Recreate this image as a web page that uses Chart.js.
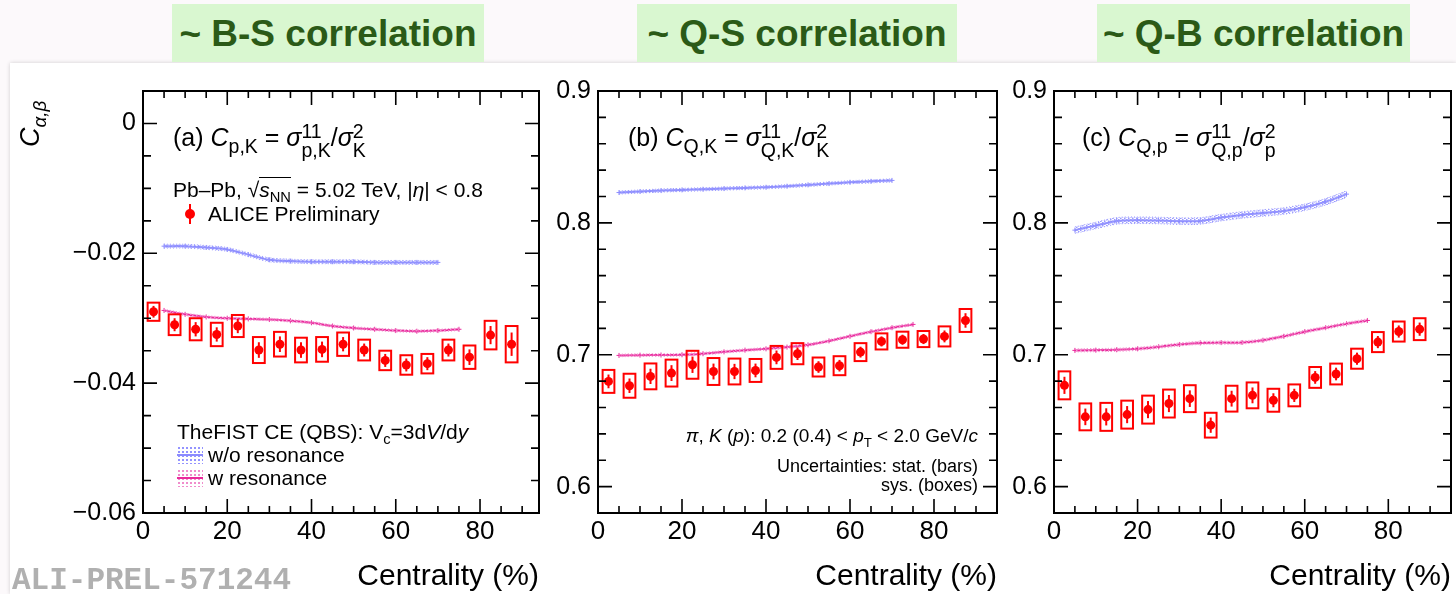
<!DOCTYPE html>
<html>
<head>
<meta charset="utf-8">
<script src="https://cdn.jsdelivr.net/npm/chart.js@4.4.1/dist/chart.umd.min.js"></script>
<style>
html, body { margin: 0; padding: 0; }
body { width: 1456px; height: 594px; position: relative; overflow: hidden; background: #fcf9fb; font-family: "Liberation Sans", Arial, sans-serif; }
.sheet { position: absolute; left: 10px; top: 63px; width: 1446px; height: 531px; background: #fff; box-shadow: 0 0 4px rgba(0,0,0,0.18); }
.head { position: absolute; top: 4px; height: 58px; background: #d9f7d0; color: #2b5a17; font-weight: bold; font-size: 37px; line-height: 60px; text-align: center; white-space: nowrap; }
canvas { position: absolute; top: 0; }
.t { position: absolute; white-space: nowrap; color: #000; z-index: 5; }
.f { font-size: 25px; line-height: 28px; }
.f sub { font-size: 0.78em; }
.s { font-size: 21px; line-height: 22px; }
.u { font-size: 18px; line-height: 20px; }
sub { font-size: 0.7em; vertical-align: -0.35em; line-height: 0; }
.ss { display: inline-block; vertical-align: -0.55em; font-size: 0.78em; line-height: 0.95; }
.ss span { display: block; }
.dot { position: absolute; width: 10px; height: 10px; border-radius: 50%; background: #f00; z-index: 5; }
.bar { position: absolute; width: 2px; background: #f00; z-index: 5; }
.sym { position: absolute; width: 26px; height: 18px; z-index: 5; background-size: 4px 4px; }
.sym i { position: absolute; left: 0; right: 0; top: 8px; height: 2px; }
.ytitle { position: absolute; left: 15px; top: 147px; font-size: 27px; line-height: 30px; transform: rotate(-90deg); transform-origin: left top; white-space: nowrap; z-index: 5; }
.ali { position: absolute; left: 12px; top: 565px; font-family: "Liberation Mono", monospace; font-weight: bold; font-size: 31px; line-height: 32px; color: #b0b0b0; z-index: 5; }
</style>
</head>
<body>
<div class="sheet"></div>
<div class="head" style="left:172px;width:312px">~ B-S correlation</div>
<div class="head" style="left:637px;width:320px">~ Q-S correlation</div>
<div class="head" style="left:1097px;width:313px">~ Q-B correlation</div>

<canvas id="panelA" width="545" height="594" style="left:0px"></canvas>
<canvas id="panelB" width="457" height="594" style="left:545px"></canvas>
<canvas id="panelC" width="454" height="594" style="left:1002px"></canvas>

<div class="ytitle"><i>C</i><sub><i>α,β</i></sub></div>
<div class="ali">ALI-PREL-571244</div>

<!-- panel (a) texts -->
<div class="t f" style="left:173px;top:122px">(a) <i>C</i><sub>p,K</sub> = <i>σ</i><span class="ss"><span>11</span><span>p,K</span></span>/<i>σ</i><span class="ss"><span>2</span><span>K</span></span></div>
<div class="t s" style="left:173px;top:179px">Pb–Pb, √<span style="border-top:1.5px solid #000"><i>s</i><sub>NN</sub></span> = 5.02 TeV, |<i>η</i>| &lt; 0.8</div>
<div class="bar" style="left:189px;top:204px;height:20px"></div>
<div class="dot" style="left:185px;top:209px"></div>
<div class="t s" style="left:208px;top:203px">ALICE Preliminary</div>
<div class="t s" style="left:177px;top:421px">TheFIST CE (QBS): V<sub>c</sub>=3d<i>V</i>/d<i>y</i></div>
<div class="sym" style="left:177px;top:446px;background-image:radial-gradient(#9393ff 1px, transparent 1.3px)"><i style="background:#8c8cff"></i></div>
<div class="t s" style="left:208px;top:444px">w/o resonance</div>
<div class="sym" style="left:177px;top:469px;background-image:radial-gradient(#f08ccc 1px, transparent 1.3px)"><i style="background:#ea2a9c"></i></div>
<div class="t s" style="left:208px;top:467px">w resonance</div>

<!-- panel (b) texts -->
<div class="t f" style="left:628px;top:122px">(b) <i>C</i><sub>Q,K</sub> = <i>σ</i><span class="ss"><span>11</span><span>Q,K</span></span>/<i>σ</i><span class="ss"><span>2</span><span>K</span></span></div>
<div class="t u" style="right:478px;top:426px;font-size:19px"><i>π</i>, <i>K</i> (<i>p</i>): 0.2 (0.4) &lt; <i>p</i><sub>T</sub> &lt; 2.0 GeV/<i>c</i></div>
<div class="t u" style="right:478px;top:456px">Uncertainties: stat. (bars)</div>
<div class="t u" style="right:478px;top:475px">sys. (boxes)</div>

<!-- panel (c) texts -->
<div class="t f" style="left:1082px;top:122px">(c) <i>C</i><sub>Q,p</sub> = <i>σ</i><span class="ss"><span>11</span><span>Q,p</span></span>/<i>σ</i><span class="ss"><span>2</span><span>p</span></span></div>

<script>
// centrality bins (%)
const centrality = [2.5, 7.5, 12.5, 17.5, 22.5, 27.5, 32.5, 37.5, 42.5, 47.5, 52.5, 57.5, 62.5, 67.5, 72.5, 77.5, 82.5, 87.5];
const modelCentNoRes = [5, 10, 15, 20, 25, 30, 35, 40, 45, 50, 55, 60, 65, 70];
const modelCentRes = [5, 10, 15, 20, 25, 30, 35, 40, 45, 50, 55, 60, 65, 70, 75];

const xTicks = [0, 20, 40, 60, 80];
const yTicksA = [-0.06, -0.04, -0.02, 0];
const yLabelsA = ['\u22120.06', '\u22120.04', '\u22120.02', '0'];
const yTicksBC = [0.6, 0.7, 0.8, 0.9];
const yLabelsBC = ['0.6', '0.7', '0.8', '0.9'];

// (a) C_p,K
const pkValues = [-0.0290, -0.0310, -0.0317, -0.0325, -0.0312, -0.0349, -0.0340, -0.0349, -0.0348, -0.0340, -0.0349, -0.0365, -0.0372, -0.0370, -0.0349, -0.0360, -0.0326, -0.0340];
const pkStat = [0.0009, 0.0010, 0.0011, 0.0011, 0.0011, 0.0012, 0.0012, 0.0012, 0.0012, 0.0011, 0.0010, 0.0010, 0.0010, 0.0010, 0.0010, 0.0012, 0.0014, 0.0018];
const pkSys = [0.0014, 0.0016, 0.0017, 0.0018, 0.0017, 0.0020, 0.0019, 0.0019, 0.0019, 0.0018, 0.0016, 0.0015, 0.0015, 0.0015, 0.0016, 0.0018, 0.0022, 0.0028];
const pkNoRes = [-0.0189, -0.0189, -0.0191, -0.0194, -0.0202, -0.0210, -0.0212, -0.0213, -0.0213, -0.0213, -0.0214, -0.0214, -0.0214, -0.0214];
const pkRes = [-0.0288, -0.0294, -0.0298, -0.0300, -0.0301, -0.0302, -0.0304, -0.0307, -0.0312, -0.0315, -0.0317, -0.0319, -0.0320, -0.0319, -0.0317];
const pkNoResBand = 0.0003;
const pkResBand = 0.0002;

// (b) C_Q,K
const qkValues = [0.6798, 0.6765, 0.6836, 0.6861, 0.6924, 0.6873, 0.6873, 0.6881, 0.6980, 0.7008, 0.6907, 0.6917, 0.7020, 0.7101, 0.7114, 0.7119, 0.7139, 0.7260];
const qkStat = [0.0052, 0.0055, 0.0058, 0.0060, 0.0062, 0.0060, 0.0058, 0.0052, 0.0052, 0.0048, 0.0044, 0.0044, 0.0041, 0.0038, 0.0038, 0.0038, 0.0045, 0.0055];
const qkSys = [0.0087, 0.0091, 0.0098, 0.0102, 0.0106, 0.0102, 0.0098, 0.0087, 0.0087, 0.0080, 0.0072, 0.0072, 0.0068, 0.0061, 0.0061, 0.0061, 0.0076, 0.0087];
const qkNoRes = [0.8230, 0.8238, 0.8245, 0.8250, 0.8255, 0.8260, 0.8265, 0.8270, 0.8278, 0.8288, 0.8298, 0.8308, 0.8315, 0.8322];
const qkRes = [0.6995, 0.6997, 0.6998, 0.7000, 0.7008, 0.7022, 0.7035, 0.7045, 0.7058, 0.7075, 0.7105, 0.7140, 0.7175, 0.7205, 0.7230];
const qkNoResBand = 0.0012;
const qkResBand = 0.0010;

// (c) C_Q,p
const qpValues = [0.6768, 0.6529, 0.6529, 0.6546, 0.6584, 0.6630, 0.6667, 0.6466, 0.6667, 0.6692, 0.6655, 0.6692, 0.6828, 0.6854, 0.6970, 0.7096, 0.7176, 0.7194];
const qpStat = [0.0065, 0.0063, 0.0065, 0.0065, 0.0065, 0.0065, 0.0063, 0.0058, 0.0060, 0.0060, 0.0053, 0.0050, 0.0048, 0.0048, 0.0046, 0.0046, 0.0046, 0.0050];
const qpSys = [0.0106, 0.0102, 0.0106, 0.0106, 0.0106, 0.0106, 0.0102, 0.0094, 0.0098, 0.0098, 0.0087, 0.0083, 0.0079, 0.0079, 0.0076, 0.0076, 0.0076, 0.0083];
const qpNoRes = [0.7945, 0.7980, 0.8015, 0.8020, 0.8018, 0.8013, 0.8015, 0.8040, 0.8060, 0.8075, 0.8090, 0.8118, 0.8160, 0.8218];
const qpRes = [0.7033, 0.7035, 0.7038, 0.7045, 0.7060, 0.7078, 0.7090, 0.7092, 0.7093, 0.7110, 0.7140, 0.7175, 0.7205, 0.7235, 0.7260];
const qpNoResBand = 0.0025;
const qpResBand = 0.0012;

const BLUE = '#8c8cff';
const BLUE_DOT = '#9a9aff';
const PINK = '#ea2a9c';
const PINK_DOT = '#f290cf';
const RED = '#ff0000';
const BOX_HALF = 1.4; // half width of sys. boxes, in centrality units

Chart.defaults.font.family = '"Liberation Sans", Arial, sans-serif';

function dotPattern(color) {
  const c = document.createElement('canvas');
  c.width = 4; c.height = 3;
  const g = c.getContext('2d');
  g.fillStyle = color;
  g.fillRect(0, 0, 1.5, 1.5);
  g.fillRect(2, 1.5, 1.5, 1.5);
  return g.createPattern(c, 'repeat');
}

function modelBand(xs, ys, half, lineColor, dotColor) {
  const pts = (d) => xs.map((x, i) => ({ x: x, y: ys[i] + d }));
  return [
    { type: 'line', data: pts(half), borderColor: dotColor, borderWidth: 1, borderDash: [1, 2],
      pointRadius: 0, fill: false, tension: 0.3 },
    { type: 'line', data: pts(-half), borderColor: dotColor, borderWidth: 1, borderDash: [1, 2],
      pointRadius: 0, fill: '-1', backgroundColor: dotPattern(dotColor), tension: 0.3 },
    { type: 'line', data: pts(0), borderColor: lineColor, borderWidth: 2, pointStyle: 'cross',
      pointRadius: 2.5, pointBorderWidth: 1, pointBorderColor: lineColor, fill: false, tension: 0.3 }
  ];
}

// ROOT-like frame with inward ticks on all four sides
const rootFrame = {
  id: 'rootFrame',
  afterDraw(chart, args, opts) {
    const { ctx, chartArea: { left, right, top, bottom }, scales: { x, y } } = chart;
    ctx.save();
    ctx.strokeStyle = '#000';
    ctx.lineWidth = 1.6;
    ctx.beginPath();
    for (let i = 0; i * 5 <= x.max + 1e-9; i++) {
      const v = i * 5;
      const px = x.getPixelForValue(v);
      const len = v % 20 === 0 ? 14 : 7;
      ctx.moveTo(px, bottom); ctx.lineTo(px, bottom - len);
      ctx.moveTo(px, top); ctx.lineTo(px, top + len);
    }
    const i0 = Math.ceil(y.min / opts.minor - 1e-6);
    const i1 = Math.floor(y.max / opts.minor + 1e-6);
    for (let i = i0; i <= i1; i++) {
      const v = i * opts.minor;
      const r = v / opts.major;
      const len = Math.abs(r - Math.round(r)) < 1e-6 ? 14 : 8;
      const py = y.getPixelForValue(v);
      ctx.moveTo(left, py); ctx.lineTo(left + len, py);
      ctx.moveTo(right, py); ctx.lineTo(right - len, py);
    }
    ctx.stroke();
    ctx.lineWidth = 2;
    ctx.strokeRect(left, top, right - left, bottom - top);
    ctx.restore();
  }
};

// stat. error bars and sys. boxes
const errorBoxes = {
  id: 'errorBoxes',
  afterDatasetsDraw(chart) {
    const { ctx, scales: { x, y } } = chart;
    chart.data.datasets.forEach((ds) => {
      if (!ds.sys) return;
      ctx.save();
      ctx.strokeStyle = RED;
      ds.data.forEach((p, j) => {
        const x0 = x.getPixelForValue(p.x - BOX_HALF);
        const x1 = x.getPixelForValue(p.x + BOX_HALF);
        const yt = y.getPixelForValue(p.y + ds.sys[j]);
        const yb = y.getPixelForValue(p.y - ds.sys[j]);
        ctx.lineWidth = 2;
        ctx.strokeRect(x0, yt, x1 - x0, yb - yt);
        const xc = x.getPixelForValue(p.x);
        ctx.beginPath();
        ctx.moveTo(xc, y.getPixelForValue(p.y + ds.stat[j]));
        ctx.lineTo(xc, y.getPixelForValue(p.y - ds.stat[j]));
        ctx.stroke();
      });
      ctx.restore();
    });
  }
};

function makePanel(id, cfg) {
  const ctx = document.getElementById(id).getContext('2d');
  return new Chart(ctx, {
    type: 'scatter',
    data: {
      datasets: [
        ...modelBand(modelCentNoRes, cfg.noRes, cfg.noResBand, BLUE, BLUE_DOT),
        ...modelBand(modelCentRes, cfg.res, cfg.resBand, PINK, PINK_DOT),
        {
          type: 'scatter',
          data: centrality.map((c, i) => ({ x: c, y: cfg.values[i] })),
          stat: cfg.stat,
          sys: cfg.sys,
          pointRadius: 4.5,
          pointBackgroundColor: RED,
          pointBorderColor: RED,
          pointBorderWidth: 0
        }
      ]
    },
    options: {
      responsive: false,
      animation: false,
      events: [],
      layout: { padding: { top: 91, right: cfg.padRight, left: 0, bottom: 0 } },
      plugins: {
        legend: { display: false },
        tooltip: { enabled: false },
        rootFrame: { minor: cfg.yMinor, major: cfg.yMajor }
      },
      scales: {
        x: {
          type: 'linear',
          min: 0,
          max: cfg.xMax,
          grid: { display: false, drawTicks: false },
          border: { display: false },
          afterFit: (s) => { s.height = 81; },
          afterBuildTicks: (s) => { s.ticks = xTicks.map(v => ({ value: v })); },
          ticks: { font: { size: 26 }, color: '#000', padding: 3, maxRotation: 0, autoSkip: false },
          title: {
            display: true, text: 'Centrality (%)', align: 'end', color: '#000',
            font: { size: 30, lineHeight: 1 }, padding: { top: 0, bottom: 2 }
          }
        },
        y: {
          type: 'linear',
          min: cfg.yMin,
          max: cfg.yMax,
          grid: { display: false, drawTicks: false },
          border: { display: false },
          afterFit: (s) => { s.width = cfg.yWidth; },
          afterBuildTicks: (s) => { s.ticks = cfg.yTicks.map(v => ({ value: v })); },
          ticks: { font: { size: 25 }, color: '#000', padding: 7, callback: (v, i) => cfg.yLabels[i] }
        }
      }
    },
    plugins: [rootFrame, errorBoxes]
  });
}

makePanel('panelA', {
  values: pkValues, stat: pkStat, sys: pkSys,
  noRes: pkNoRes, noResBand: pkNoResBand, res: pkRes, resBand: pkResBand,
  yMin: -0.06, yMax: 0.005, yTicks: yTicksA, yLabels: yLabelsA, yMinor: 0.005, yMajor: 0.02,
  xMax: 94, yWidth: 143, padRight: 6
});
makePanel('panelB', {
  values: qkValues, stat: qkStat, sys: qkSys,
  noRes: qkNoRes, noResBand: qkNoResBand, res: qkRes, resBand: qkResBand,
  yMin: 0.58, yMax: 0.9, yTicks: yTicksBC, yLabels: yLabelsBC, yMinor: 0.02, yMajor: 0.1,
  xMax: 95, yWidth: 53, padRight: 4
});
makePanel('panelC', {
  values: qpValues, stat: qpStat, sys: qpSys,
  noRes: qpNoRes, noResBand: qpNoResBand, res: qpRes, resBand: qpResBand,
  yMin: 0.58, yMax: 0.9, yTicks: yTicksBC, yLabels: yLabelsBC, yMinor: 0.02, yMajor: 0.1,
  xMax: 95, yWidth: 52, padRight: 1
});
</script>
</body>
</html>
